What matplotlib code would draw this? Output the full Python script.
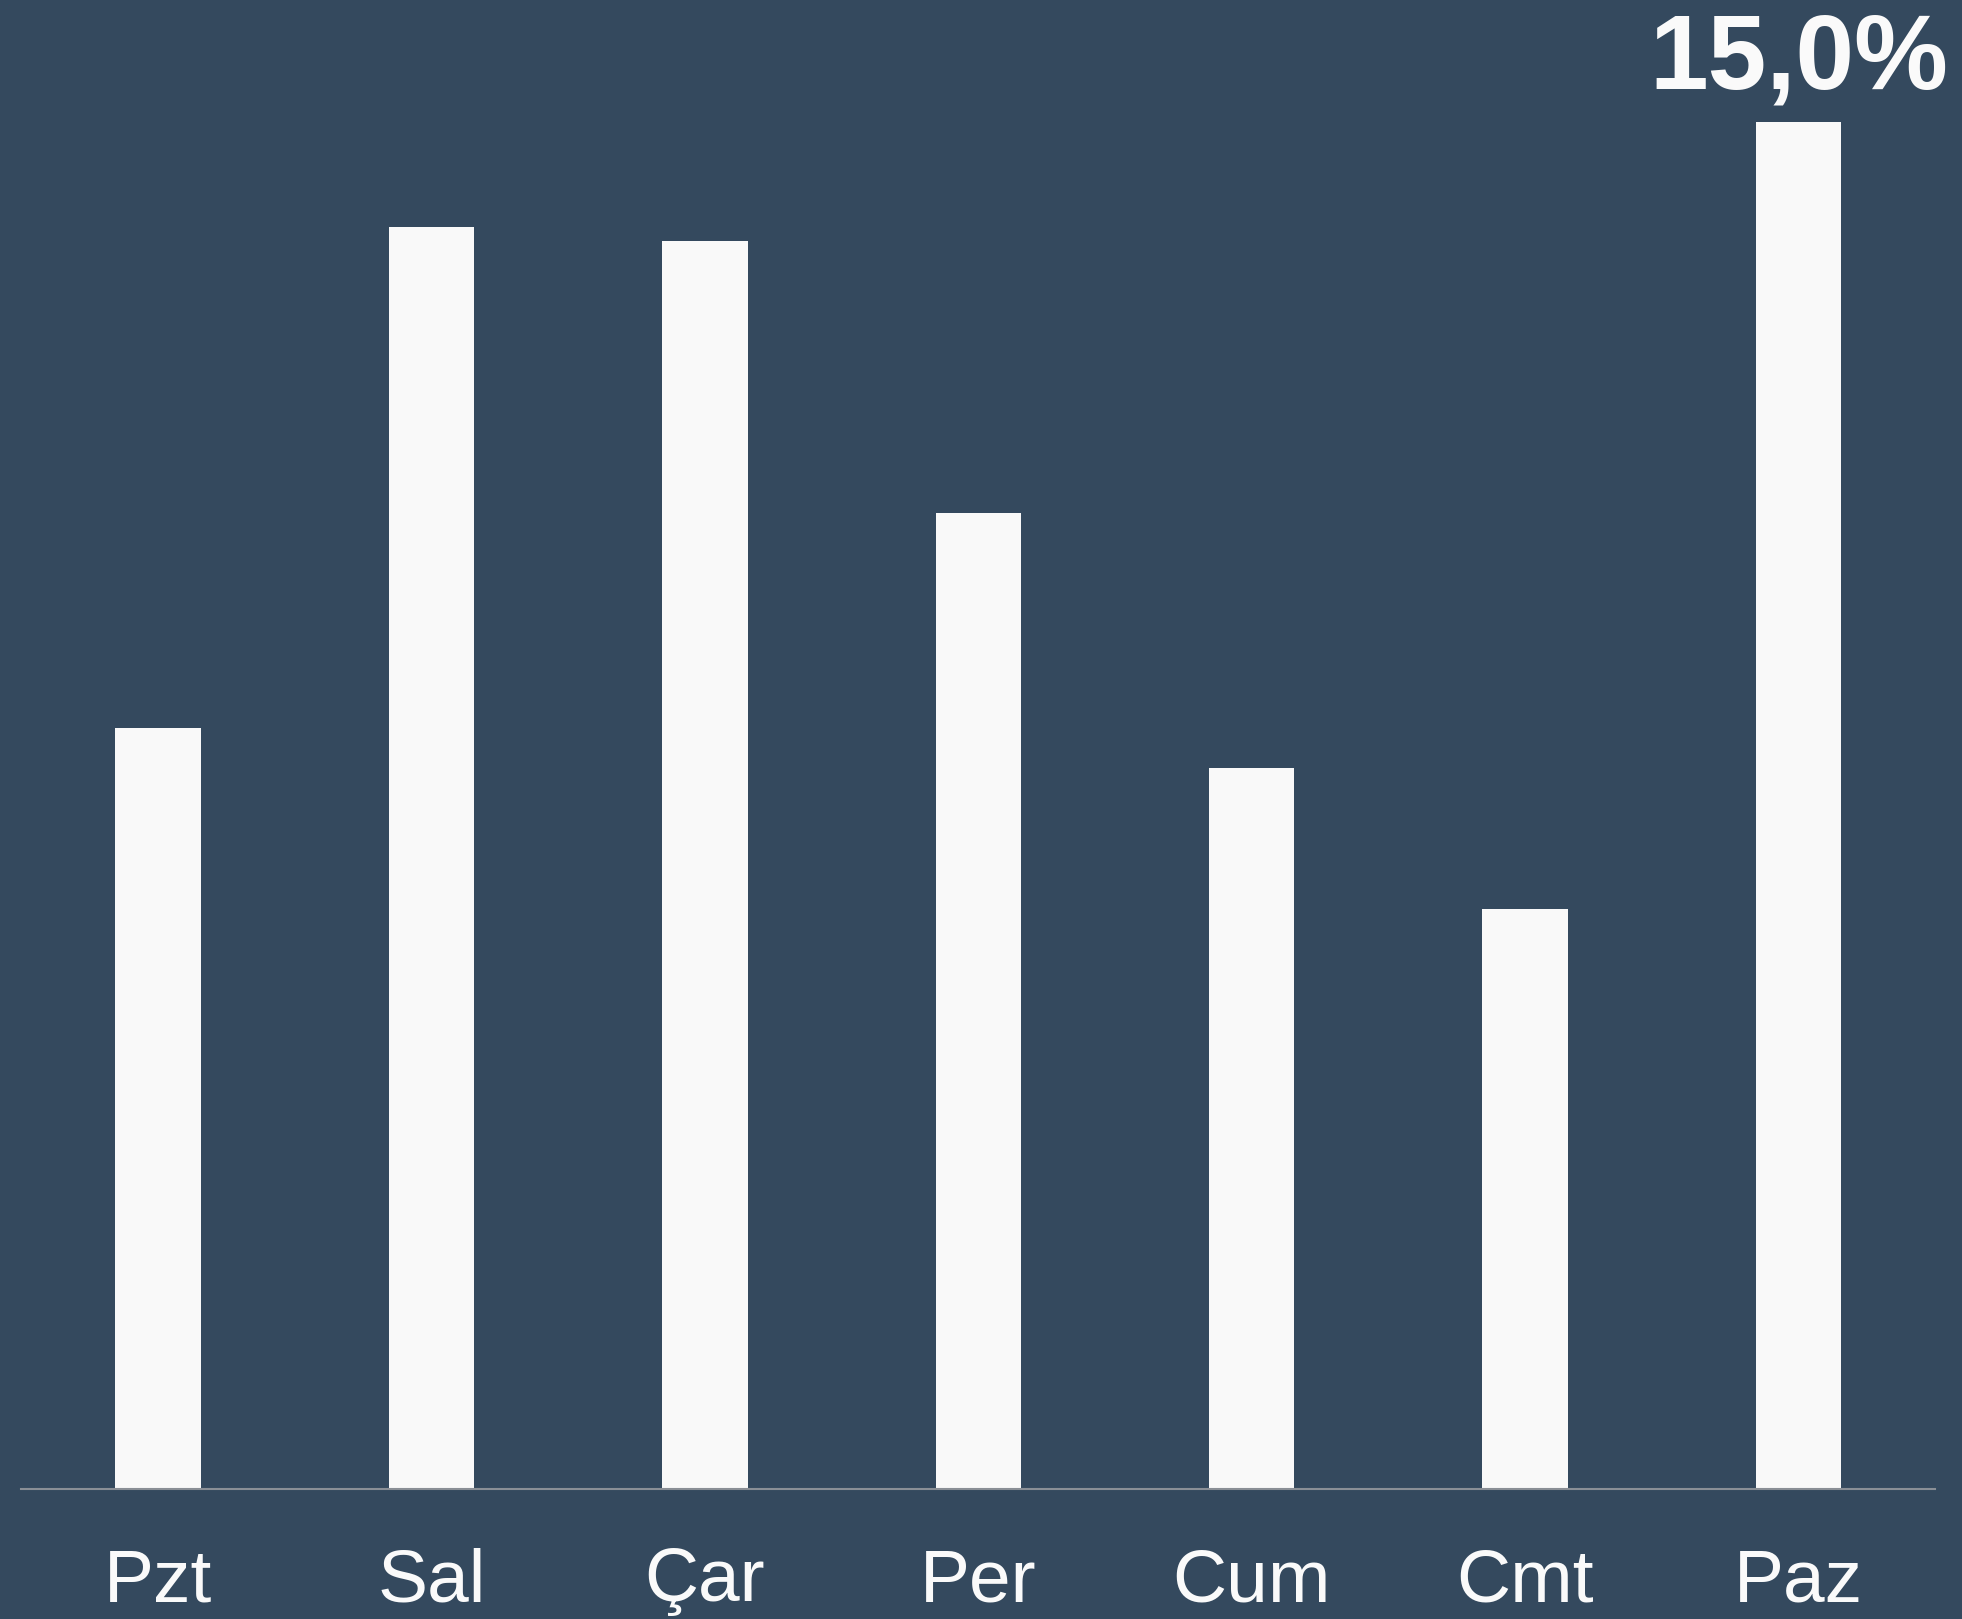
import numpy as np
import matplotlib.pyplot as plt

plt.rcParams['font.family'] = ['Liberation Sans', 'DejaVu Sans']

# haftanin gunleri ve degerler (%)
gunler = ['Pzt', 'Sal', 'Çar', 'Per', 'Cum', 'Cmt', 'Paz']
oranlar = [8.35, 13.85, 13.69, 10.71, 7.91, 6.37, 15.0]
etiket = '15,0%'

arka = '#34495e'
bar_renk = '#f9f9f9'

fig = plt.figure(figsize=(19.62, 16.19), dpi=100, facecolor=arka)
ax = fig.add_axes([0.0109, 0.0803, 0.9754, 0.8443])
ax.set_facecolor(arka)

x = np.arange(len(gunler))
ax.bar(x, oranlar, width=0.312, color=bar_renk, linewidth=0)

ax.set_xlim(-0.5, 6.5)
ax.set_ylim(0, 15)

# sadece en yuksek cubuga etiket
imax = int(np.argmax(oranlar))
ax.text(x[imax], oranlar[imax] + 0.37, etiket, ha='center', va='baseline',
        fontsize=76, fontweight='bold', color='#fafafa', clip_on=False)

ax.set_xticks(x)
ax.set_xticklabels(gunler, fontsize=54, color='#fafafa')
ax.tick_params(axis='x', length=0, pad=42)
ax.set_yticks([])
for s in ['top', 'right', 'left']:
    ax.spines[s].set_visible(False)
ax.spines['bottom'].set_color('#8a8f96')
ax.spines['bottom'].set_linewidth(1.5)

plt.savefig('out.png', dpi=100, facecolor=arka)
